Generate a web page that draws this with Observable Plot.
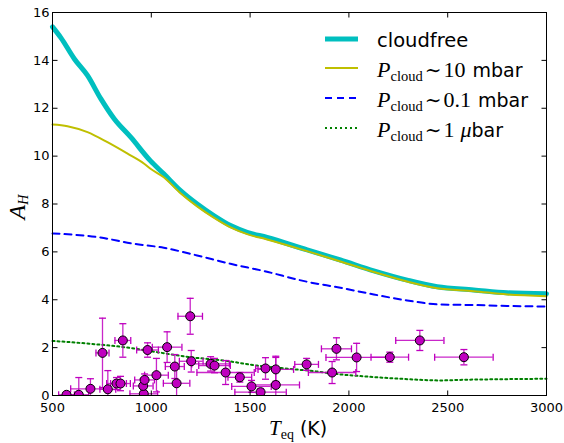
<!DOCTYPE html>
<html><head><meta charset="utf-8">
<script src="https://cdn.jsdelivr.net/npm/d3@7"></script>
<script src="https://cdn.jsdelivr.net/npm/@observablehq/plot@0.6"></script>
<style>body{margin:0;background:#fff}#chart svg{display:block}</style>
</head><body><div id="chart"></div>
<script>
// Model curves
const cloudfreeT = [500, 542, 610, 677, 745, 812, 896, 996, 1063, 1148, 1232, 1316, 1401, 1485, 1586, 1789, 1957, 2126, 2295, 2447, 2632, 2801, 3000];
const cloudfreeA = [15.4, 14.95, 14.07, 13.37, 12.39, 11.56, 10.79, 9.8, 9.26, 8.56, 8.0, 7.52, 7.1, 6.82, 6.6, 6.08, 5.66, 5.21, 4.82, 4.54, 4.41, 4.29, 4.25];
const p10T = [500, 576, 677, 778, 880, 964, 996, 1063, 1148, 1232, 1316, 1401, 1485, 1586, 1789, 1957, 2126, 2295, 2447, 2632, 2801, 3000];
const p10A = [11.32, 11.25, 11.0, 10.58, 10.1, 9.68, 9.47, 9.12, 8.45, 7.9, 7.43, 7.02, 6.74, 6.52, 6.03, 5.6, 5.16, 4.76, 4.48, 4.36, 4.22, 4.15];
const p01T = [500, 743, 895, 1063, 1232, 1401, 1570, 1789, 1957, 2126, 2295, 2463, 2632, 2801, 3000];
const p01A = [6.77, 6.6, 6.36, 6.17, 5.85, 5.5, 5.2, 4.75, 4.5, 4.22, 3.97, 3.8, 3.78, 3.74, 3.72];
const p1uT = [500, 692, 861, 1030, 1198, 1367, 1536, 1705, 1840, 1924, 2093, 2261, 2463, 2599, 2767, 3000];
const p1uA = [2.28, 2.16, 2.02, 1.81, 1.6, 1.46, 1.25, 1.11, 1.0, 0.91, 0.79, 0.7, 0.63, 0.66, 0.68, 0.7];

// Observations
const obsT    = [571, 633, 692, 753, 780, 824, 844, 856, 962, 959, 966, 981, 1026, 1080, 1119, 1128, 1197, 1202, 1300, 1320, 1376, 1448, 1507, 1553, 1578, 1630, 1630, 1786, 1915, 1937, 2039, 2207, 2359, 2582];
const obsA    = [0.03, 0.03, 0.28, 1.78, 0.26, 0.5, 0.5, 2.3, 0.07, 0.4, 0.65, 1.9, 0.85, 2.02, 1.21, 0.51, 3.31, 1.43, 1.32, 1.25, 0.96, 0.76, 0.38, 0.14, 1.13, 1.09, 0.44, 1.3, 0.96, 1.95, 1.59, 1.6, 2.3, 1.6];
const obsTerr = [40, 50, 100, 33, 40, 50, 50, 40, 70, 50, 50, 55, 60, 75, 48, 67, 62, 60, 95, 80, 145, 60, 100, 130, 50, 90, 120, 60, 120, 76, 155, 95, 122, 148];
const obsAerr = [0.1, 0.72, 0.42, 1.45, 0.78, 0.25, 0.3, 0.7, 0.1, 0.3, 0.25, 0.3, 0.7, 0.64, 0.5, 0.6, 0.75, 0.45, 0.3, 0.3, 0.5, 0.2, 0.25, 0.15, 0.45, 0.5, 1.2, 0.25, 0.46, 0.46, 0.59, 0.21, 0.42, 0.32];

const xTicks = [500, 1000, 1500, 2000, 2500, 3000];
const yTicks = [0, 2, 4, 6, 8, 10, 12, 14, 16];

const toRows = (T, A) => T.map((t, i) => ({T: t, A: A[i]}));
const cloudfree = toRows(cloudfreeT, cloudfreeA);
const p10 = toRows(p10T, p10A);
const p01 = toRows(p01T, p01A);
const p1u = toRows(p1uT, p1uA);
const obs = obsT.map((t, i) => ({T: t, A: obsA[i], et: obsTerr[i], ea: obsAerr[i]}));

const MAG = "#bf00bf";
const capH = {draw(ctx, size) { const r = Math.sqrt(size / Math.PI); ctx.moveTo(-r, 0); ctx.lineTo(r, 0); }};
const capV = {draw(ctx, size) { const r = Math.sqrt(size / Math.PI); ctx.moveTo(0, -r); ctx.lineTo(0, r); }};
const tickSym = (dx, dy) => ({draw(ctx, size) { const r = Math.sqrt(size / Math.PI); ctx.moveTo(0, 0); ctx.lineTo(dx * r, dy * r); }});

const chart = Plot.plot({
  width: 564, height: 443,
  marginLeft: 52, marginRight: 18, marginTop: 12, marginBottom: 48,
  x: {domain: [500, 3000]},
  y: {domain: [0, 16]},
  style: {fontFamily: "DejaVu Sans", fontSize: "13px", background: "white", overflow: "visible", color: "black"},
  marks: [
    Plot.line(cloudfree, {x: "T", y: "A", stroke: "#00bfbf", strokeWidth: 5, curve: "monotone-x"}),
    Plot.line(p10, {x: "T", y: "A", stroke: "#bfbf00", strokeWidth: 2, curve: "monotone-x"}),
    Plot.line(p01, {x: "T", y: "A", stroke: "#0000ff", strokeWidth: 2, strokeDasharray: "7,5", curve: "monotone-x"}),
    Plot.line(p1u, {x: "T", y: "A", stroke: "#008000", strokeWidth: 2, strokeDasharray: "2,3", curve: "monotone-x"}),
    Plot.ruleX(obs, {x: "T", y1: d => d.A - d.ea, y2: d => d.A + d.ea, stroke: MAG, strokeWidth: 1.3, strokeOpacity: 0.85, clip: true}),
    Plot.ruleY(obs, {y: "A", x1: d => d.T - d.et, x2: d => d.T + d.et, stroke: MAG, strokeWidth: 1.3, strokeOpacity: 0.85, clip: true}),
    Plot.dot(obs, {x: "T", y: d => d.A - d.ea, symbol: capH, r: 3.5, fill: "none", stroke: MAG, strokeWidth: 1.3, clip: true}),
    Plot.dot(obs, {x: "T", y: d => d.A + d.ea, symbol: capH, r: 3.5, fill: "none", stroke: MAG, strokeWidth: 1.3, clip: true}),
    Plot.dot(obs, {x: d => d.T - d.et, y: "A", symbol: capV, r: 3.5, fill: "none", stroke: MAG, strokeWidth: 1.3, clip: true}),
    Plot.dot(obs, {x: d => d.T + d.et, y: "A", symbol: capV, r: 3.5, fill: "none", stroke: MAG, strokeWidth: 1.3, clip: true}),
    Plot.dot(obs, {x: "T", y: "A", r: 4.5, fill: MAG, stroke: "black", strokeWidth: 1, clip: true}),
    Plot.frame({stroke: "black", strokeWidth: 1}),
    Plot.dot(xTicks, {x: d => d, y: 0, symbol: tickSym(0, -1), r: 5, fill: "none", stroke: "black", strokeWidth: 1}),
    Plot.dot(xTicks, {x: d => d, y: 16, symbol: tickSym(0, 1), r: 5, fill: "none", stroke: "black", strokeWidth: 1}),
    Plot.dot(yTicks, {y: d => d, x: 500, symbol: tickSym(1, 0), r: 5, fill: "none", stroke: "black", strokeWidth: 1}),
    Plot.dot(yTicks, {y: d => d, x: 3000, symbol: tickSym(-1, 0), r: 5, fill: "none", stroke: "black", strokeWidth: 1}),
    Plot.axisX({ticks: xTicks, tickSize: 0, tickPadding: 7, label: null, tickFormat: d => String(d), fontSize: 13}),
    Plot.axisY({ticks: yTicks, tickSize: 0, tickPadding: 3, label: null, tickFormat: d => String(d), fontSize: 13})
  ]
});
document.getElementById("chart").appendChild(chart);

const svg = d3.select(chart);
const SERIF = "Liberation Serif";
const SANS = "DejaVu Sans";

// Axis labels
const xl = svg.append("text").attr("x", 269).attr("y", 435).attr("fill", "black").attr("text-anchor", "start");
xl.append("tspan").attr("font-family", SERIF).attr("font-style", "italic").attr("font-size", 21).text("T");
xl.append("tspan").attr("font-family", SERIF).attr("font-size", 14).attr("dy", 4).text("eq");
xl.append("tspan").attr("font-family", SANS).attr("font-size", 19).attr("dy", -4).text(" (K)");

const yl = svg.append("text").attr("transform", "translate(25,207) rotate(-90)").attr("fill", "black").attr("text-anchor", "middle");
yl.append("tspan").attr("font-family", SERIF).attr("font-style", "italic").attr("font-size", 24).text("A");
yl.append("tspan").attr("font-family", SERIF).attr("font-style", "italic").attr("font-size", 14).attr("dy", 3).text("H");

// Legend
const lg = svg.append("g").attr("text-anchor", "start");
const rows = [
  {y: 39, stroke: "#00bfbf", w: 5, dash: null},
  {y: 68, stroke: "#bfbf00", w: 2, dash: null},
  {y: 98, stroke: "#0000ff", w: 2, dash: "7,5"},
  {y: 128, stroke: "#008000", w: 2, dash: "2,3"}
];
rows.forEach(r => {
  const l = lg.append("line").attr("x1", 325).attr("x2", 358).attr("y1", r.y).attr("y2", r.y)
    .attr("stroke", r.stroke).attr("stroke-width", r.w);
  if (r.dash) l.attr("stroke-dasharray", r.dash);
});
lg.append("text").attr("x", 377).attr("y", 46.5).attr("font-family", SANS).attr("font-size", 19.5).attr("fill", "black").text("cloudfree");
function pLabel(y, num, unitItalic, unit) {
  const t = lg.append("text").attr("x", 377).attr("y", y).attr("fill", "black");
  t.append("tspan").attr("font-family", SERIF).attr("font-style", "italic").attr("font-size", 22).text("P");
  t.append("tspan").attr("font-family", SERIF).attr("font-size", 14.5).attr("dy", 4).text("cloud");
  t.append("tspan").attr("font-family", "DejaVu Serif").attr("font-size", 20).attr("dy", -4).attr("dx", 2).text("\u223C");
  t.append("tspan").attr("font-family", SERIF).attr("font-size", 22).attr("dx", 2).text(num);
  if (unitItalic) {
    t.append("tspan").attr("font-family", SANS).attr("font-size", 19).text(" ");
    t.append("tspan").attr("font-family", SERIF).attr("font-style", "italic").attr("font-size", 22).text(unitItalic);
    t.append("tspan").attr("font-family", SANS).attr("font-size", 19).text(unit);
  } else {
    t.append("tspan").attr("font-family", SANS).attr("font-size", 19).attr("dx", 1).text(unit);
  }
}
pLabel(76.5, "10", null, " mbar");
pLabel(106.5, "0.1", null, " mbar");
pLabel(136.5, "1", "\u03BC", "bar");
</script>
</body></html>
